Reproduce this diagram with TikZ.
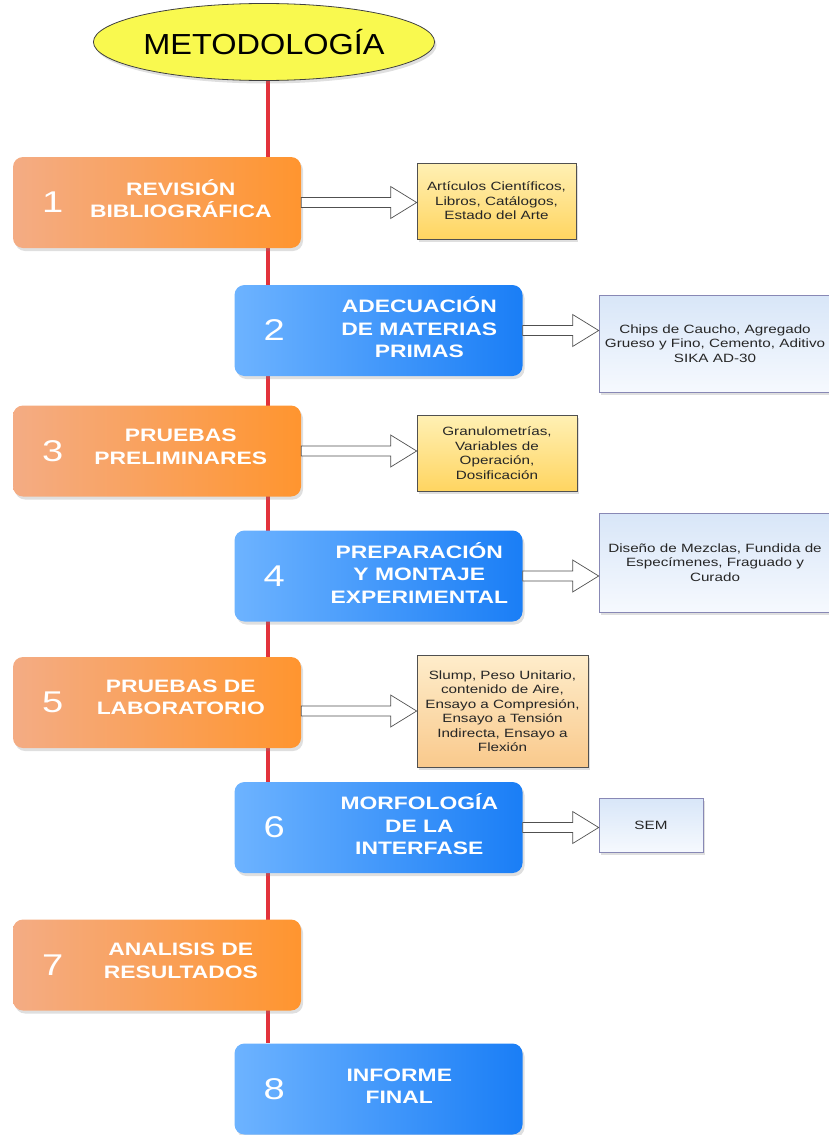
\documentclass[tikz,border=0pt]{standalone}
\usepackage{fontspec}
\setmainfont{Liberation Sans}
\newfontfamily\ancho[FakeStretch=1.27]{Liberation Sans}
\newfontfamily\metofont[FakeStretch=1.12]{Liberation Sans}
\usetikzlibrary{shapes.geometric,shadows,backgrounds,calc,positioning}
\definecolor{oraL}{HTML}{F4AC84}
\definecolor{oraR}{HTML}{FF952F}
\definecolor{azuL}{HTML}{6DB3FF}
\definecolor{azuR}{HTML}{1A7EF6}
\definecolor{amaT}{HTML}{FFF0B4}
\definecolor{amaB}{HTML}{FFD561}
\definecolor{tanT}{HTML}{FEEDCB}
\definecolor{tanB}{HTML}{F9C98C}
\definecolor{celT}{HTML}{D8E6F8}
\definecolor{celB}{HTML}{F6F9FE}
\definecolor{eje}{HTML}{E2323B}
\definecolor{borde}{HTML}{505050}
\definecolor{metoY}{HTML}{F9F94F}
\tikzset{
  sombra/.style={drop shadow={shadow xshift=2pt,shadow yshift=-3pt,opacity=0.25}},
  paso/.style={rounded corners=10pt,minimum width=288pt,minimum height=91pt,inner sep=0pt,sombra},
  opaso/.style={paso,left color=oraL,right color=oraR},
  bpaso/.style={paso,left color=azuL,right color=azuR},
  num/.style={text=white,inner sep=0pt,font=\ancho\fontsize{30}{30}\selectfont},
  ttl/.style={text=white,align=center,inner sep=0pt,font=\ancho\bfseries\fontsize{18}{22.5}\selectfont},
  info/.style={draw=borde,line width=0.7pt,align=center,inner sep=3pt,text=black!85,sombra,
    font=\ancho\fontsize{12}{14.5}\selectfont},
  amarillo/.style={info,top color=amaT,bottom color=amaB},
  arena/.style={info,top color=tanT,bottom color=tanB},
  celeste/.style={info,draw=borde!70!blue!60,top color=celT,bottom color=celB},
  eje/.style={draw=eje,line width=4pt},
  flecha/.style={draw=borde,fill=white,line width=0.7pt,
    to path={let \p1=(\tikztostart),\p2=(\tikztotarget) in
      (\x1,\y1+5pt) -- (\x2-26pt,\y1+5pt) -- (\x2-26pt,\y1+16pt) -- (\x2,\y1)
      -- (\x2-26pt,\y1-16pt) -- (\x2-26pt,\y1-5pt) -- (\x1,\y1-5pt) -- cycle}},
}
\begin{document}
\begin{tikzpicture}[x=1pt,y=-1pt]
\useasboundingbox (0,0) rectangle (829,1135);
% titulo
\node[ellipse,draw=black!75,line width=0.8pt,fill=metoY,minimum width=313pt,minimum height=77pt,inner sep=0pt,sombra,
  font=\metofont\fontsize{29}{29}\selectfont] (meto) at (264,42) {METODOLOGÍA};
% pasos
\node[opaso] (p1) at (157,202.5) {};
\node[num] (n1) at ([xshift=40pt]p1.west) {1};
\node[ttl] (t1) at ([xshift=168pt,yshift=4pt]p1.west) {REVISIÓN\\BIBLIOGRÁFICA};
\node[bpaso] (p2) at (378.5,330.5) {};
\node[num] (n2) at ([xshift=40pt]p2.west) {2};
\node[ttl] (t2) at ([xshift=185pt,yshift=3pt]p2.west) {ADECUACIÓN\\DE MATERIAS\\PRIMAS};
\node[opaso] (p3) at (157,451) {};
\node[num] (n3) at ([xshift=40pt]p3.west) {3};
\node[ttl] (t3) at ([xshift=168pt,yshift=4pt]p3.west) {PRUEBAS\\PRELIMINARES};
\node[bpaso] (p4) at (378.5,576) {};
\node[num] (n4) at ([xshift=40pt]p4.west) {4};
\node[ttl] (t4) at ([xshift=185pt,yshift=3pt]p4.west) {PREPARACIÓN\\Y MONTAJE\\EXPERIMENTAL};
\node[opaso] (p5) at (157,702.5) {};
\node[num] (n5) at ([xshift=40pt]p5.west) {5};
\node[ttl] (t5) at ([xshift=168pt,yshift=5pt]p5.west) {PRUEBAS DE\\LABORATORIO};
\node[bpaso] (p6) at (378.5,827.5) {};
\node[num] (n6) at ([xshift=40pt]p6.west) {6};
\node[ttl] (t6) at ([xshift=185pt,yshift=3pt]p6.west) {MORFOLOGÍA\\DE LA\\INTERFASE};
\node[opaso] (p7) at (157,965) {};
\node[num] (n7) at ([xshift=40pt]p7.west) {7};
\node[ttl] (t7) at ([xshift=168pt,yshift=4pt]p7.west) {ANALISIS DE\\RESULTADOS};
\node[bpaso] (p8) at (378.5,1089) {};
\node[num] (n8) at ([xshift=40pt]p8.west) {8};
\node[ttl] (t8) at ([xshift=165pt,yshift=3pt]p8.west) {INFORME\\FINAL};
% detalles
\node[amarillo,minimum width=159pt,minimum height=76pt] (i1) at (496.5,201) {Artículos Científicos,\\Libros, Catálogos,\\Estado del Arte};
\node[celeste,minimum width=232pt,minimum height=97pt] (i2) at (715,343.5) {Chips de Caucho, Agregado\\Grueso y Fino, Cemento, Aditivo\\SIKA AD-30};
\node[amarillo,minimum width=160pt,minimum height=76pt] (i3) at (497,453) {Granulometrías,\\Variables de\\Operación,\\Dosificación};
\node[celeste,minimum width=232pt,minimum height=99pt] (i4) at (715,562.5) {Diseño de Mezclas, Fundida de\\Especímenes, Fraguado y\\Curado};
\node[arena,minimum width=171pt,minimum height=112pt] (i5) at (502.5,711) {Slump, Peso Unitario,\\contenido de Aire,\\Ensayo a Compresión,\\Ensayo a Tensión\\Indirecta, Ensayo a\\Flexión};
\node[celeste,minimum width=104pt,minimum height=54pt] (i6) at (651,825) {SEM};
% flechas
\draw[flecha] (p1.east) to (p1.east -| i1.west);
\draw[flecha] (p2.east) to (p2.east -| i2.west);
\draw[flecha] (p3.east) to (p3.east -| i3.west);
\draw[flecha] (p4.east) to (p4.east -| i4.west);
\draw[flecha] (p5.east |- i5.west) to (i5.west);
\draw[flecha] (p6.east) to (p6.east -| i6.west);
\begin{scope}[on background layer]
\draw[eje] ([xshift=4pt]meto.south) -- ([xshift=4pt]meto.south |- p8.north);
\end{scope}
\end{tikzpicture}
\end{document}
